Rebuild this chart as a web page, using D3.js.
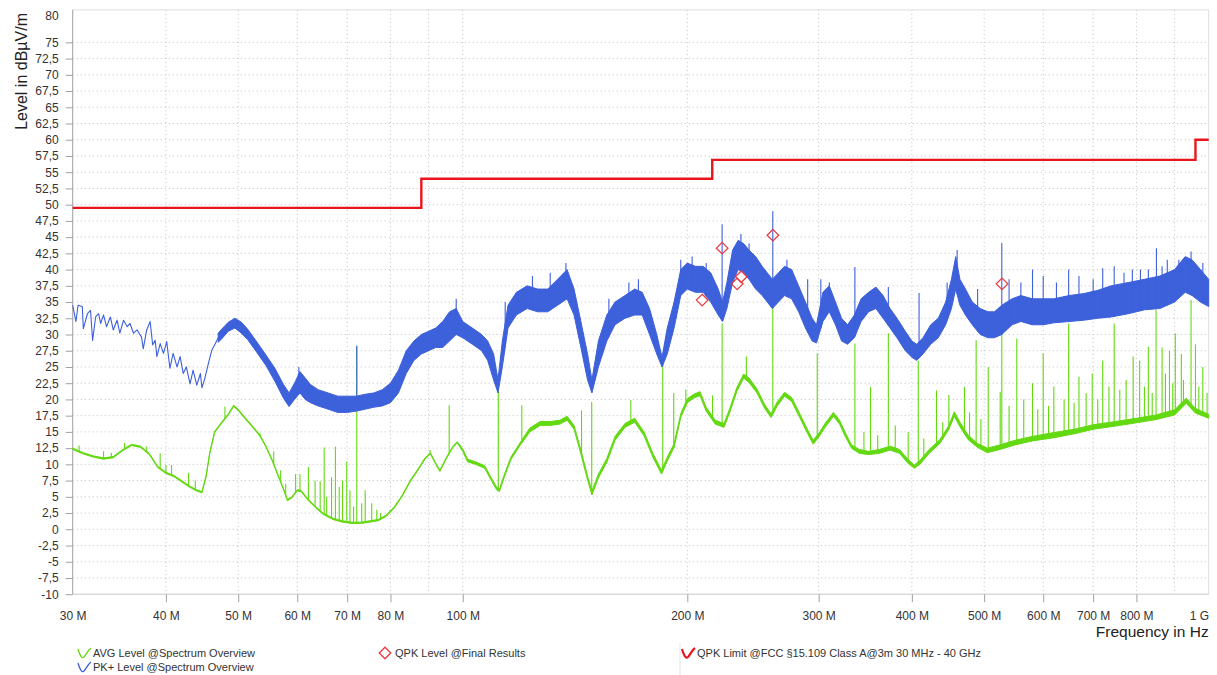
<!DOCTYPE html>
<html>
<head>
<meta charset="utf-8">
<script src="https://cdn.jsdelivr.net/npm/d3@7"></script>
<style>
    body { margin: 0; background: #fff; }
    svg { display: block; font-family: "Liberation Sans", Arial, sans-serif; }
</style>
</head>
<body>
<svg id="chart" width="1217" height="675"></svg>
<script>
"use strict";

// ---- data (frequency in MHz, level in dBµV/m) ----

// y axis tick labels
const yTicks = [-10, -7.5, -5, -2.5, 0, 2.5, 5, 7.5, 10, 12.5, 15, 17.5, 20, 22.5, 25, 27.5,
    30, 32.5, 35, 37.5, 40, 42.5, 45, 47.5, 50, 52.5, 55, 57.5, 60, 62.5, 65, 67.5, 70, 72.5, 75];

// x axis: grid lines and labelled ticks
const xGrid = [40, 50, 60, 70, 80, 90, 100, 200, 300, 400, 500, 600, 700, 800, 900];
const xTicks = [30, 40, 50, 60, 70, 80, 100, 200, 300, 400, 500, 600, 700, 800, 1000];
const xTickLabels = ["30 M", "40 M", "50 M", "60 M", "70 M", "80 M", "100 M", "200 M",
    "300 M", "400 M", "500 M", "600 M", "700 M", "800 M", "1 G"];

// QPK limit (FCC 15.109 class A @3m), step after each frequency
const limitFreqs = [30, 88, 216, 960, 1000];
const limitLevels = [49.5, 54, 56.9, 60, 60];

// QPK final results
const qpkFreqs = [209.4, 222.7, 233.3, 236.2, 260.5, 528.4];
const qpkLevels = [35.3, 43.3, 37.8, 38.9, 45.3, 37.8];

// PK+ trace below 47 MHz, where it is a single jagged line: [MHz, level] vertices
const pkJagged = [
    [30.0, 34.5], [30.3, 32.0], [30.5, 34.5], [30.9, 34.3], [31.0, 30.9], [31.4, 33.2],
    [31.7, 33.7], [31.9, 29.1], [32.2, 32.7], [32.5, 33.2], [32.7, 31.7], [33.0, 33.0],
    [33.3, 31.2], [33.7, 32.7], [34.0, 30.7], [34.4, 32.2], [34.7, 30.2], [35.1, 32.2],
    [35.5, 31.2], [35.8, 31.7], [36.2, 30.2], [36.6, 30.7], [37.1, 29.6], [37.3, 27.8],
    [37.7, 30.7], [38.1, 32.0], [38.4, 28.4], [38.7, 29.1], [38.9, 26.6], [39.3, 28.6],
    [39.7, 27.1], [40.1, 28.9], [40.5, 24.8], [40.9, 27.1], [41.4, 25.0], [41.8, 26.6],
    [42.2, 24.0], [42.6, 25.0], [43.1, 22.4], [43.5, 24.5], [44.0, 22.2], [44.5, 24.0],
    [44.7, 21.8], [45.1, 23.2], [45.6, 25.5], [46.1, 27.6], [46.6, 28.6], [47.0, 29.5]
];

// PK+ trace above 47 MHz: [MHz, lower edge, upper edge] of the dense band
const pkEnvelope = [
    [47, 28.8, 30.2], [47.5, 29.3, 30.8], [48.5, 30.5, 31.9], [49.5, 31, 32.5],
    [50.5, 30.2, 31.9], [51.5, 29.2, 30.8], [53, 27.2, 28.8], [54.5, 25.2, 26.8],
    [56, 22.8, 24.8], [57.5, 20.2, 22.3], [58.5, 18.9, 21], [59.5, 20, 22.5], [60.5, 21, 24.3],
    [61.5, 20, 23.3], [62.5, 19.5, 22.3], [64, 19, 21.5], [66, 18.5, 21], [68, 18, 20.5],
    [70, 18, 20.5], [72, 18.2, 20.5], [74, 18.5, 20.8], [76, 18.8, 21], [78, 19, 21.5],
    [80, 19.5, 22.5], [82, 21, 24.5], [84, 24, 27.5], [86, 26, 29], [88, 27, 30],
    [90, 27.5, 30.5], [92, 28, 31], [94, 28, 32], [96, 29, 33.5], [98, 30, 34],
    [100, 29.5, 32], [103, 28.5, 31], [106, 27.5, 30], [108, 26, 29], [110, 23, 27],
    [111.5, 21, 23], [113, 25, 29], [115, 31, 34.5], [118, 33, 36.5], [122, 34, 37.5],
    [126, 33.5, 37], [130, 33.5, 37], [134, 34.5, 38.5], [138, 35.5, 40], [141, 33, 37],
    [144, 28, 32], [147, 23, 27], [149, 21, 23], [152, 25, 29], [156, 29, 33],
    [160, 31.5, 35], [165, 32.5, 36], [170, 33, 37], [174, 33, 36.5], [178, 30, 34],
    [182, 27, 30], [185, 25, 26.5], [188, 27, 31], [192, 31, 35], [196, 36, 40],
    [200, 37, 41], [205, 36.5, 40.5], [210, 36.5, 40.5], [215, 35, 39.5], [220, 33, 37],
    [223, 32, 35], [226, 34, 38], [230, 38, 43], [234, 40, 44.5], [238, 39.5, 44],
    [242, 38.5, 43], [247, 37, 42], [252, 36, 40.5], [256, 35, 39.5], [260, 34, 38.5],
    [265, 35, 39.5], [270, 36, 40.5], [276, 35.5, 40], [282, 33.5, 37.5], [288, 31, 35],
    [294, 29, 32.5], [298, 28.7, 31.5], [304, 32, 36.5], [310, 33.5, 37.5], [316, 31.5, 35],
    [322, 29, 32.5], [328, 28.5, 31.5], [335, 29.5, 33], [342, 32, 35.5], [350, 33.5, 36.5],
    [358, 34, 37.3], [366, 32.5, 36], [374, 31, 34], [382, 29.5, 32.5], [392, 27.5, 30.5],
    [400, 26.5, 29], [406, 26, 28.5], [414, 27, 29.5], [424, 28.5, 31.5], [434, 29.5, 32.5],
    [444, 31.5, 35], [452, 34, 38.5], [458, 37, 42], [464, 34.5, 38.5], [472, 33, 37],
    [482, 31.5, 35], [494, 30, 34], [506, 29.5, 33.5], [516, 29.5, 33.5], [528, 30, 34.5],
    [545, 31.5, 35.5], [560, 32, 36], [580, 31.5, 35.5], [600, 31.5, 35.5], [620, 31.8, 35.5],
    [650, 32, 36], [680, 32.2, 36.3], [710, 32.5, 36.8], [740, 32.7, 37.5], [780, 33.2, 38],
    [820, 33.8, 38.5], [860, 34, 39], [900, 35, 40], [930, 36.5, 42], [950, 36, 41.5],
    [975, 35, 40], [1000, 34.3, 38.5]
];

// PK+ narrow spikes: [MHz, top]
const pkSpikes = [
    [60.3, 25], [72.1, 28.3], [98, 35.5], [114, 35], [124, 39], [131, 39.5],
    [137.5, 41], [157, 35.5], [167, 38], [172, 38.5], [196, 41.5], [203, 42], [212, 41],
    [222.7, 47], [236, 45.5], [242, 44], [260.4, 49], [272, 41.5], [290, 38.5], [302, 38.5],
    [310, 38], [335.5, 40.4], [372, 37.3], [409, 36.4], [446, 38], [460, 43], [490, 37],
    [528, 44.1], [540, 38.5], [560, 38], [580.5, 40], [600, 39], [625, 38], [649, 40],
    [670, 39], [700, 38.5], [721, 40.2], [747, 40.5], [770, 39.5], [790, 40], [810, 40],
    [830, 40], [851, 43.3], [866, 40.5], [880, 41.5], [912, 41.5], [947, 42.8], [982, 41]
];

// AVG trace: [MHz, lower edge, upper edge]
const avgEnvelope = [
    [30, 12.3, 12.5], [31, 11.6, 11.8], [32, 11.1, 11.3], [33, 10.8, 11], [34, 11, 11.2],
    [35, 12.1, 12.3], [36, 12.9, 13.1], [37, 12.6, 12.8], [38, 11.5, 11.7], [39, 9.5, 9.7],
    [40, 8.6, 8.8], [41, 8.1, 8.3], [42, 7.3, 7.5], [43, 6.5, 6.7], [44, 5.9, 6.1],
    [44.7, 5.6, 5.8], [45.3, 8.1, 8.4], [45.8, 11.6, 11.9], [46.5, 14.9, 15.1], [47.5, 16.3, 16.5],
    [48.5, 17.6, 17.8], [49.3, 18.9, 19.1], [50, 18.3, 18.5], [51, 17.1, 17.3], [52, 16, 16.2],
    [53.5, 14.3, 14.5], [54.5, 12.6, 12.8], [55.5, 10.6, 10.8], [56.5, 8.3, 8.5], [57.5, 6.1, 6.3],
    [58.2, 4.4, 4.6], [59, 4.8, 5], [60, 5.9, 6.1], [60.7, 5.8, 6], [62, 4.5, 4.7],
    [63.5, 3.3, 3.5], [65, 2.3, 2.5], [67, 1.5, 1.7], [69, 1.1, 1.3], [71, 0.9, 1.1],
    [73, 0.9, 1.1], [75, 1.1, 1.3], [77, 1.3, 1.5], [79, 2, 2.2], [81, 3.3, 3.5],
    [83, 5.1, 5.3], [85, 7.3, 7.5], [87, 9, 9.2], [89, 10.8, 11], [90.5, 11.6, 11.8],
    [92, 10, 10.2], [93.2, 8.9, 9.1], [95, 10.8, 11], [97, 12.6, 12.8], [98.3, 13.3, 13.5],
    [100, 12, 12.4], [101.5, 10.4, 10.8], [104, 10, 10.4], [107, 9.4, 9.8], [109, 7.7, 8.1],
    [111, 6.1, 6.5], [112, 5.8, 6.2], [113.5, 7.8, 8.2], [116, 10.7, 11.1], [119, 12.7, 13.1],
    [123, 15, 15.6], [127, 16, 16.6], [131, 16, 16.6], [135, 16.2, 16.8], [138, 16.8, 17.4],
    [141, 15.4, 16], [144, 11.6, 12.2], [147, 7.6, 8.2], [149, 5.3, 5.9], [152, 7.9, 8.5],
    [156, 10.3, 10.9], [160, 13.7, 14.3], [165, 15.7, 16.3], [170, 16.5, 17.1], [175, 14.4, 15],
    [180, 11, 11.6], [184.7, 8.5, 9.1], [188, 10.5, 11.1], [192, 12.6, 13.2], [196, 17.2, 17.8],
    [200, 19.5, 20.1], [204, 20.2, 20.8], [208, 20.6, 21.2], [212, 18.2, 18.8], [218, 16.2, 16.8],
    [224, 15.7, 16.3], [228, 18, 18.6], [233, 21.2, 21.8], [238, 23.3, 23.9], [242, 22.6, 23.3],
    [248, 21, 21.6], [254, 18.6, 19.2], [259, 17.2, 17.8], [264, 19, 19.6], [270, 20.5, 21.1],
    [276, 19.7, 20.3], [283, 17.2, 17.8], [290, 14.7, 15.3], [295, 13.1, 13.7], [301, 14.4, 15],
    [306, 15.7, 16.3], [314, 17.4, 18], [320, 16.2, 16.8], [326, 14.2, 14.8], [332, 12.5, 13],
    [340, 11.7, 12.3], [350, 11.5, 12], [362, 11.7, 12.3], [374, 12.2, 12.8], [385, 11.7, 12.3],
    [395, 10.2, 10.8], [403, 9.4, 9.9], [410, 10, 10.6], [422, 11.7, 12.3], [436, 13.2, 13.8],
    [448, 15.3, 15.9], [456, 17.4, 18.1], [464, 15.8, 16.5], [476, 13.8, 14.5], [490, 12.6, 13.2],
    [505, 11.8, 12.5], [525, 12.3, 13], [550, 13, 13.7], [580, 13.6, 14.3], [620, 14.1, 14.9],
    [660, 14.7, 15.4], [700, 15.4, 16.1], [750, 15.9, 16.6], [800, 16.4, 17.1], [850, 16.9, 17.6],
    [900, 17.6, 18.4], [933, 19.4, 20.2], [960, 17.9, 18.6], [1000, 17.1, 17.7]
];

// AVG narrow spikes: [MHz, top]
const avgSpikes = [
    [30.6, 12.9], [33, 12], [33.8, 11.8], [35.2, 13.3], [37.7, 12.8], [39.3, 11.7], [40, 9.9],
    [40.7, 9.9], [42.9, 8.7], [43.8, 7.5], [48, 18.9], [53.5, 14.8], [55.8, 12], [57, 9.1],
    [57.9, 7], [59.7, 8.5], [60.5, 8.5], [62.1, 9.6], [63.4, 7.5], [64.4, 7.4], [65.2, 12.6],
    [65.7, 5], [66.7, 8], [67.5, 12.7], [68.3, 6.5], [69, 7.5], [69.9, 10.4], [70.6, 6],
    [71.4, 3.5], [72.1, 28.1], [73.2, 4], [74, 6], [75.5, 4], [76.7, 3], [77.6, 2.5],
    [79.9, 3], [90.4, 12.2], [95.9, 19.1], [111.6, 24], [120, 19.1], [144.3, 18.3],
    [148.9, 19.6], [168, 19.9], [185.4, 25.5], [191.8, 21], [199.1, 21.5], [216.2, 20.6],
    [222.7, 31.7], [240, 26.6], [260.4, 34.8], [298.7, 27.1], [335.5, 28.6], [345, 15],
    [352.1, 21.9], [360, 14.5], [372, 30.2], [380, 16], [395.5, 15], [408, 26], [415, 14],
    [431.6, 21.4], [440, 16.5], [448.4, 20.7], [470.5, 21.9], [478, 18], [487.8, 29.1],
    [495, 17], [506.3, 25], [525.4, 21.2], [528, 30.2], [540, 19], [553, 29.4], [565, 20],
    [580.5, 22.5], [590, 18.5], [600, 27.1], [610, 19], [620, 22], [640, 20], [649, 31.7],
    [660, 19.5], [670, 23.5], [685, 21], [698, 24], [710, 20], [721, 26], [735, 22],
    [747, 31.7], [760, 21.5], [775, 23], [792, 26.6], [808, 26], [820, 22], [830, 28.1],
    [840, 21], [850, 33.8], [866, 28], [875, 24], [886, 27.5], [895, 22.5], [902, 30.2],
    [919, 27], [925, 23], [947, 35.3], [960, 28.5], [970, 22], [982, 25], [995, 21]
];

// ---- drawing ----
const COLORS = { avg: "#63d911", pk: "#3d60db", limit: "#e8161c", qpk: "#e83a40",
    grid: "#c9c9c9", text: "#333" };

const svg = d3.select("svg#chart");
const plot = { left: 72.7, right: 1208.7, top: 9.9, bottom: 594.2 };

const x = d3.scaleLog().domain([30, 1000]).range([plot.left, plot.right]);
const y = d3.scaleLinear().domain([-10, 80]).range([plot.bottom, plot.top]);

// grid
const grid = svg.append("g").attr("stroke", COLORS.grid).attr("stroke-dasharray", "1.2,2.8");
grid.selectAll("line.h").data(yTicks.filter(v => v > -10)).enter().append("line")
    .attr("x1", plot.left).attr("x2", plot.right)
    .attr("y1", d => y(d)).attr("y2", d => y(d));
grid.selectAll("line.v").data(xGrid).enter().append("line")
    .attr("x1", d => x(d)).attr("x2", d => x(d))
    .attr("y1", plot.top).attr("y2", plot.bottom);

// frame
svg.append("rect")
    .attr("x", plot.left).attr("y", plot.top)
    .attr("width", plot.right - plot.left).attr("height", plot.bottom - plot.top)
    .attr("fill", "none").attr("stroke", "#dedede");

// y axis
const yAxis = svg.append("g")
    .attr("transform", "translate(" + plot.left + ",0)")
    .call(d3.axisLeft(y).tickValues(yTicks).tickSize(7).tickPadding(7)
        .tickFormat(d => String(d).replace(".", ",")));
yAxis.select(".domain").attr("stroke", "#a8a8a8").attr("d", "M0," + plot.top + "V" + plot.bottom);
yAxis.selectAll(".tick line").attr("stroke", "#a0a0a0");
yAxis.selectAll(".tick text").attr("fill", COLORS.text).attr("font-size", 12)
    .attr("font-family", "Liberation Sans, Arial, sans-serif");
// the top label sits below its value, as in the reference
svg.append("text").attr("x", plot.left - 14).attr("y", y(80) + 10)
    .attr("text-anchor", "end").attr("font-size", 12).attr("fill", COLORS.text).text("80");

// x axis
const xAxis = svg.append("g")
    .attr("transform", "translate(0," + plot.bottom + ")")
    .call(d3.axisBottom(x).tickValues(xTicks).tickSize(8).tickPadding(5)
        .tickFormat((d, i) => xTickLabels[i]));
xAxis.select(".domain").attr("stroke", "#d6d6d6").attr("d", "M" + plot.left + ",0H" + plot.right);
xAxis.selectAll(".tick line").attr("stroke", d => (d === 30 || d === 1000) ? "none" : "#a0a0a0");
xAxis.selectAll(".tick text").attr("fill", COLORS.text).attr("font-size", 12)
    .attr("font-family", "Liberation Sans, Arial, sans-serif")
    .attr("text-anchor", d => d === 1000 ? "end" : "middle")
    .attr("dy", "1.05em");

// axis titles
svg.append("text")
    .attr("transform", "translate(27,13) rotate(-90)")
    .attr("text-anchor", "end").attr("font-size", 16).attr("fill", "#222")
    .text("Level in dBµV/m");
svg.append("text")
    .attr("x", plot.right).attr("y", 637)
    .attr("text-anchor", "end").attr("font-size", 15.5).attr("fill", "#222")
    .text("Frequency in Hz");

// helper: base of a spike = lower edge of its trace
function baseOf(envelope) {
    return d3.scaleLog().domain(envelope.map(d => d[0])).range(envelope.map(d => d[1]))
        .clamp(true);
}

const band = d3.area().x(d => x(d[0])).y0(d => y(d[1])).y1(d => y(d[2]));
const trace = d3.line().x(d => x(d[0])).y(d => y(d[1]));

// AVG trace
const avgBase = baseOf(avgEnvelope);
svg.append("path").datum(avgEnvelope).attr("d", band)
    .attr("fill", COLORS.avg).attr("stroke", COLORS.avg).attr("stroke-width", 1);
svg.append("g").selectAll("line").data(avgSpikes).enter().append("line")
    .attr("x1", d => x(d[0])).attr("x2", d => x(d[0]))
    .attr("y1", d => y(avgBase(d[0]))).attr("y2", d => y(d[1]))
    .attr("stroke", COLORS.avg).attr("stroke-width", 1.1);

// PK+ trace
const pkBase = baseOf(pkEnvelope);
svg.append("path").datum(pkJagged).attr("d", trace)
    .attr("fill", "none").attr("stroke", COLORS.pk).attr("stroke-width", 1.1)
    .attr("stroke-linejoin", "round");
svg.append("path").datum(pkEnvelope).attr("d", band)
    .attr("fill", COLORS.pk).attr("stroke", COLORS.pk).attr("stroke-width", 1);
svg.append("g").selectAll("line").data(pkSpikes).enter().append("line")
    .attr("x1", d => x(d[0])).attr("x2", d => x(d[0]))
    .attr("y1", d => y(pkBase(d[0]))).attr("y2", d => y(d[1]))
    .attr("stroke", COLORS.pk).attr("stroke-width", 1.1);

// limit line
const limitLine = d3.line().x(d => x(d[0])).y(d => y(d[1])).curve(d3.curveStepAfter);
svg.append("path").datum(limitFreqs.map((f, i) => [f, limitLevels[i]]))
    .attr("d", limitLine).attr("fill", "none")
    .attr("stroke", COLORS.limit).attr("stroke-width", 2.4);

// QPK diamonds
const diamond = d3.symbol().type(d3.symbolDiamond2).size(85);
svg.append("g").selectAll("path").data(qpkFreqs).enter().append("path")
    .attr("transform", (d, i) => "translate(" + x(d) + "," + y(qpkLevels[i]) + ")")
    .attr("d", diamond)
    .attr("fill", "none").attr("stroke", COLORS.qpk).attr("stroke-width", 1.3);

// legend
const wave = "M0,-4 C2,3 4,6 6,4 S10,-3 13,-5";
const legend = svg.append("g").attr("font-size", 11).attr("fill", COLORS.text);
const legendItems = [
    { x: 78, y: 653, color: COLORS.avg, width: 1.3, label: "AVG Level @Spectrum Overview" },
    { x: 78, y: 667, color: COLORS.pk, width: 1.3, label: "PK+ Level @Spectrum Overview" },
    { x: 682, y: 653, color: COLORS.limit, width: 2.2, label: "QPK Limit @FCC §15.109 Class A@3m 30 MHz - 40 GHz" }
];
legendItems.forEach(item => {
    legend.append("path").attr("d", wave)
        .attr("transform", "translate(" + item.x + "," + item.y + ")")
        .attr("fill", "none").attr("stroke", item.color).attr("stroke-width", item.width);
    legend.append("text").attr("x", item.x + 15).attr("y", item.y + 4).text(item.label);
});
legend.append("path").attr("d", diamond)
    .attr("transform", "translate(385,653)")
    .attr("fill", "none").attr("stroke", COLORS.qpk).attr("stroke-width", 1.3);
legend.append("text").attr("x", 395).attr("y", 657).text("QPK Level @Final Results");
legend.append("line").attr("x1", 680).attr("x2", 680).attr("y1", 643).attr("y2", 675)
    .attr("stroke", "#e4e4e4");
</script>
</body>
</html>
